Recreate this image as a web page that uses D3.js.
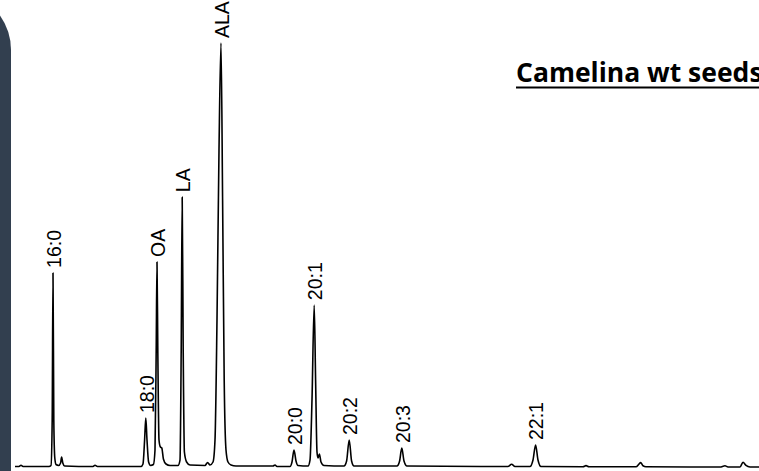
<!DOCTYPE html>
<html>
<head>
<meta charset="utf-8">
<script src="https://cdn.jsdelivr.net/npm/d3@7"></script>
<style>
  html, body { margin: 0; padding: 0; background: #fff; }
  svg { display: block; }
</style>
</head>
<body>
<div id="chart"></div>
<script>
var w = 759,
    h = 471;

// chromatogram trace: retention time (min) and relative signal (% of ALA)
var times = [0.00, 0.20, 0.30, 0.40, 1.70, 1.80, 1.86, 1.90, 1.94, 1.99, 2.05, 2.18, 2.28, 2.33, 2.39, 2.48,
  3.90, 4.00, 4.12, 6.30, 6.40, 6.48, 6.54, 6.60, 6.68, 6.78, 6.92, 7.00, 7.06, 7.10, 7.14, 7.20, 7.27, 7.34,
  7.42, 7.55, 7.75, 8.15, 8.25, 8.31, 8.36, 8.41, 8.47, 8.58, 8.75, 9.50, 9.63, 9.75, 9.90, 10.00, 10.10,
  10.20, 10.30, 10.38, 10.46, 10.55, 10.65, 10.80, 11.05, 12.90, 13.00, 13.10, 13.75, 13.85, 13.95, 14.05,
  14.15, 14.65, 14.75, 14.85, 14.96, 15.03, 15.10, 15.15, 15.22, 15.30, 15.45, 16.45, 16.58, 16.71, 16.83,
  16.95, 19.10, 19.23, 19.34, 19.45, 19.60, 24.65, 24.83, 25.00, 25.75, 25.90, 26.03, 26.15, 26.30, 28.40,
  28.55, 28.70, 31.05, 31.20, 31.28, 31.40, 31.55, 35.25, 35.50, 35.65, 36.25, 36.40, 36.55, 36.75, 37.20];

var signal = [0, 0, 0.28, 0, 0, 0.24, 11.0, 45.7, 11.0, 2.0, 0.47, 0.24, 0.83, 2.24, 0.83, 0.12,
  0, 0.28, 0, 0, 0.59, 6.26, 11.45, 6.26, 1.06, 0.24, 0.47, 3.9, 27.5, 48.3, 27.5, 6.26, 4.6, 4.37,
  1.77, 0.59, 0.24, 0.24, 1.53, 27.5, 63.6, 27.5, 3.42, 1.06, 0.35, 0.24, 0.94, 0.35, 1.06, 6.26, 34.6,
  74.7, 100, 62.9, 20.4, 3.9, 1.06, 0.35, 0.12, 0.12, 0.35, 0, 0, 1.06, 3.9, 1.3,
  0.24, 0.12, 1.53, 15.7, 38.1, 20.4, 3.42, 2.0, 2.95, 1.06, 0.24, 0.12, 1.3, 6.26, 1.3,
  0.12, 0.12, 1.3, 4.37, 1.3, 0.12, 0, 0.52, 0, 0, 1.53, 5.08, 1.53, 0, -0.07,
  0.21, -0.07, -0.07, 0.59, 0.94, 0.17, -0.07, -0.12, 0.17, -0.12, -0.12, 0.99, 0.24, -0.12, -0.12];

// labelled peaks
var peakNames = ["16:0", "18:0", "OA", "LA", "ALA", "20:0", "20:1", "20:2", "20:3", "22:1"];
var peakTimes = [1.90, 6.54, 7.10, 8.36, 10.30, 13.95, 14.96, 16.71, 19.34, 26.03];
var peakHeights = [45.7, 11.45, 48.3, 63.6, 100, 3.9, 38.1, 6.26, 4.37, 5.08];

var title = "Camelina wt seeds";

var svg = d3.select("#chart")
  .append("svg")
  .attr("width", w)
  .attr("height", h);

// dark side bar on the left edge
svg.append("path")
  .attr("d", "M0,15.4 A60,60 0 0 1 11,50 L11," + h + " L0," + h + " Z")
  .attr("fill", "#323f4f");

var x = d3.scaleLinear().domain([0, 37.2]).range([15, 759]);
var y = d3.scaleLinear().domain([0, 100]).range([466.5, 43]);

var trace = times.map(function(t, i) { return [t, signal[i]]; });

var line = d3.line()
  .x(function(d) { return x(d[0]); })
  .y(function(d) { return y(d[1]); })
  .curve(d3.curveMonotoneX);

svg.append("path")
  .datum(trace)
  .attr("fill", "none")
  .attr("stroke", "#000")
  .attr("stroke-width", 1.6)
  .attr("stroke-linejoin", "round")
  .attr("d", line);

// peak labels, rotated
var peaks = peakNames.map(function(n, i) { return { name: n, t: peakTimes[i], v: peakHeights[i] }; });

svg.selectAll(".peak-label")
  .data(peaks)
  .enter()
  .append("text")
  .attr("class", "peak-label")
  .attr("transform", function(d) { return "translate(" + (x(d.t) + 1) + "," + (y(d.v) - 5) + ") rotate(-90)"; })
  .attr("dy", "0.35em")
  .attr("text-anchor", "start")
  .attr("font-family", "'Liberation Sans', Arial, sans-serif")
  .attr("font-size", "19.5px")
  .attr("fill", "#000")
  .text(function(d) { return d.name; });

// title, underlined
var t = svg.append("text")
  .attr("x", 516)
  .attr("y", 82)
  .attr("font-family", "'Open Sans', sans-serif")
  .attr("font-weight", "bold")
  .attr("font-size", "26.5px")
  .attr("fill", "#000")
  .text(title);

var bb = t.node().getBBox();
svg.append("line")
  .attr("x1", bb.x)
  .attr("x2", bb.x + bb.width)
  .attr("y1", 87.5)
  .attr("y2", 87.5)
  .attr("stroke", "#000")
  .attr("stroke-width", 2);
</script>
</body>
</html>
